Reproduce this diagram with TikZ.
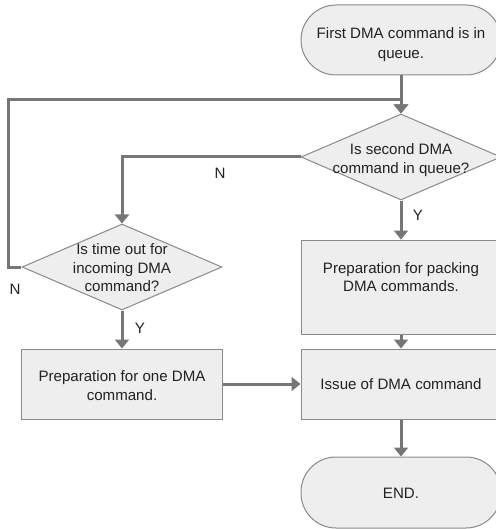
\documentclass[tikz,border=0pt]{standalone}
\usepackage{fontspec}
\setmainfont{Liberation Sans}
\usetikzlibrary{arrows.meta,shapes.geometric}
\definecolor{boxfill}{HTML}{EEEEEE}
\definecolor{boxline}{HTML}{8A8A8A}
\definecolor{arrline}{HTML}{767676}
\definecolor{txtcol}{HTML}{222222}
\tikzset{
  base/.style={draw=boxline, fill=boxfill, line width=1bp, inner sep=0pt},
  procbox/.style={base, rectangle, minimum width=200bp, minimum height=#1},
  termbox/.style={base, rectangle, rounded corners=35bp, minimum width=200bp, minimum height=#1},
  decision/.style={base, diamond, minimum width=200bp, minimum height=86bp},
  lbl/.style={text=txtcol, align=center, font=\fontsize{15.15}{18.6}\selectfont, inner sep=0pt},
  widelbl/.style={lbl, font=\fontsize{15.15}{20.5}\selectfont},
  conn/.style={draw=arrline, line width=3bp},
  arr/.style={conn, -{Triangle[width=14bp,length=9bp]}},
}
\begin{document}
\begin{tikzpicture}[x=1bp,y=-1bp]
\useasboundingbox (0,0) rectangle (496,529);
\clip (0,0) rectangle (496,529);
% nodes
\node[termbox=70bp] (start) at (401,40) {};
\node[widelbl] (starttxt) at (401,44.5) {First DMA command is in\\queue.};
\node[decision] (d1) at (401,157) {};
\node[lbl] (d1txt) at (401,160) {Is second DMA\\command in queue?};
\node[procbox=94bp] (pack) at (401,287) {};
\node[lbl] (packtxt) at (401,277) {Preparation for packing\\DMA commands.};
\node[procbox=70bp] (issue) at (401,384) {};
\node[lbl] (issuetxt) at (401,384) {Issue of DMA command};
\node[termbox=71bp] (endn) at (401,492.5) {};
\node[lbl] (endtxt) at (401,493) {END.};
\node[decision] (d2) at (122,267) {};
\node[lbl] (d2txt) at (122,268) {Is time out for\\incoming DMA\\command?};
\node[procbox=70bp] (one) at (122,384) {};
\node[lbl] (onetxt) at (122,385.5) {Preparation for one DMA\\command.};
\coordinate (loopL) at (8,100);
\coordinate (nbend) at (122,157);
% connectors
\draw[arr] (start.south) -- (d1.north);
\draw[arr] (d1.south) -- (pack.north);
\draw[arr] (pack.south) -- (issue.north);
\draw[arr] (issue.south) -- (endn.north);
\draw[arr] (d1.west) -- (nbend) -- (d2.north);
\draw[arr] (d2.west) -| (loopL) -| (d1.north);
\draw[arr] (d2.south) -- (one.north);
\draw[arr] (one.east) -- (issue.west);
% labels
\node[lbl] (ly1) at (418,215) {Y};
\node[lbl] (ln1) at (220,173) {N};
\node[lbl] (ly2) at (140,328) {Y};
\node[lbl] (ln2) at (15,289) {N};
\end{tikzpicture}
\end{document}
